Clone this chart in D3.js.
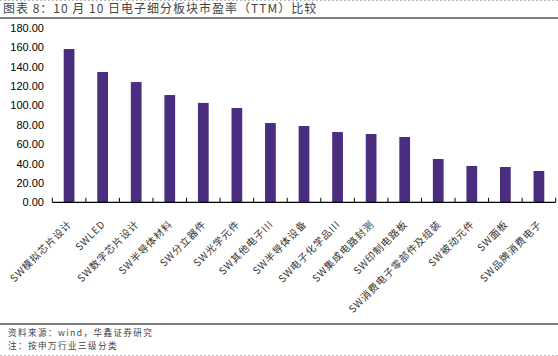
<!DOCTYPE html>
<html><head><meta charset="utf-8">
<script src="https://cdn.jsdelivr.net/npm/d3@7"></script>
<style>body{margin:0;background:#fff}svg{display:block}</style>
</head><body>
<script>
const categories = ["SW模拟芯片设计","SWLED","SW数字芯片设计","SW半导体材料","SW分立器件","SW光学元件","SW其他电子III","SW半导体设备","SW电子化学品III","SW集成电路封测","SW印制电路板","SW消费电子零部件及组装","SW被动元件","SW面板","SW品牌消费电子"];
const values = [158.2,134.5,124.1,110.7,102.6,97.3,81.8,78.7,72.5,70.5,67.4,44.7,37.5,36.4,32.3];
const yTicks = [0,20,40,60,80,100,120,140,160,180];
const title = "图表 8：10 月 10 日电子细分板块市盈率（TTM）比较";
const notes = ["资料来源：wind，华鑫证券研究","注：按申万行业三级分类"];

const W=558,H=356;
const svg=d3.select("body").append("svg").attr("width",W).attr("height",H);
const cjk="'Noto Sans CJK SC', sans-serif";

svg.append("line").attr("x1",0).attr("x2",W).attr("y1",0.5).attr("y2",0.5).attr("stroke","#bbb").attr("stroke-dasharray","2,2");
svg.append("line").attr("x1",0).attr("x2",W).attr("y1",355.5).attr("y2",355.5).attr("stroke","#bbb").attr("stroke-dasharray","2,2");

svg.append("text").attr("x",3).attr("y",13).attr("font-family",cjk).attr("font-size",12).attr("fill","#444").attr("letter-spacing","1px").text(title);
svg.append("line").attr("x1",0).attr("x2",W).attr("y1",18).attr("y2",18).attr("stroke","#000").attr("stroke-width",1.2);

svg.append("line").attr("x1",0).attr("x2",W).attr("y1",324).attr("y2",324).attr("stroke","#000").attr("stroke-width",1.2);
notes.forEach((t,i)=>svg.append("text").attr("x",8).attr("y",336+i*12.5).attr("font-family",cjk).attr("font-size",8.6).attr("fill","#444").attr("letter-spacing","1.4px").text(t));

const x=d3.scaleBand().domain(categories).range([52.3,555.7]).paddingInner(0.68).paddingOuter(0.34);
const y=d3.scaleLinear().domain([0,180]).range([202.3,27.9]);

const ya=svg.append("g").attr("transform","translate(47,0)").call(d3.axisLeft(y).tickValues(yTicks).tickFormat(d3.format(".2f")).tickSize(0).tickPadding(3));
ya.select(".domain").remove();
ya.selectAll("text").attr("font-family","Arial, 'Liberation Sans', sans-serif").attr("font-size",11).attr("fill","#000");

svg.append("g").selectAll("rect").data(values).join("rect")
 .attr("x",(d,i)=>x(categories[i])).attr("width",x.bandwidth())
 .attr("y",d=>y(d)).attr("height",d=>y(0)-y(d)).attr("fill","#4b2d7f");

const xa=svg.append("g");
xa.append("line").attr("x1",52.3).attr("x2",555.7).attr("y1",y(0)).attr("y2",y(0)).attr("stroke","#000").attr("stroke-width",1.2);
const bounds=d3.range(categories.length+1).map(i=>52.3+i*(503.4/categories.length));
xa.selectAll("line.t").data(bounds).join("line").attr("class","t").attr("x1",d=>d).attr("x2",d=>d).attr("y1",y(0)).attr("y2",y(0)-4.5).attr("stroke","#000");

svg.append("g").selectAll("text").data(categories).join("text")
 .attr("transform",d=>`translate(${x(d)+x.bandwidth()/2+1},${y(0)+20}) rotate(-45)`)
 .attr("text-anchor","end").attr("dy","0.35em")
 .attr("font-family",cjk).attr("font-size",10).attr("fill","#333").attr("letter-spacing","0.9px").text(d=>d);
</script>
</body></html>
